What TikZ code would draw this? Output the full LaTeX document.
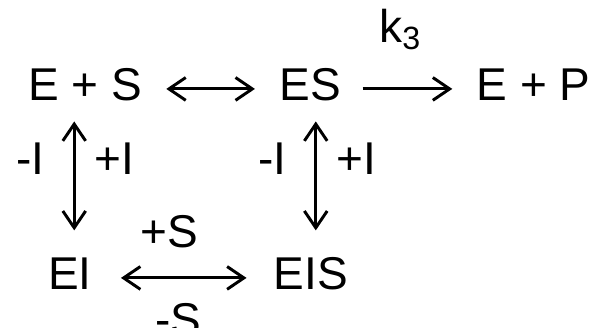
\documentclass[tikz,border=0pt]{standalone}
\usepackage{fontspec}
\setmainfont{Liberation Sans}
\usetikzlibrary{arrows.meta}

\begin{document}
\begin{tikzpicture}[font=\fontsize{21.8}{26}\selectfont,>={Straight Barb[length=0.28cm,width=0.38cm]},
sp/.style={inner sep=0pt,text height=0.55cm,text depth=0.18cm,anchor=base},
rxn/.style={line width=1.4pt,shorten <=0.4cm,shorten >=0.4cm},
vrt/.style={line width=1.4pt,shorten <=0.17cm,shorten >=0.42cm},
lab/.style={inner sep=0pt}]
\useasboundingbox (0,0) rectangle (10,5.45);

\node[sp] (es) at (1.417,3.783) {E + S};
\node[sp] (c) at (5.167,3.783) {ES};
\node[sp] (p) at (8.892,3.783) {E + P};
\node[sp] (ei) at (1.167,0.633) {EI};
\node[sp] (eis) at (5.183,0.633) {EIS};

\draw[rxn,<->] (es.east)--(c.west);
\draw[rxn,->,shorten <=0.36cm] (c.east)--(p.west) node[lab,midway,above=0.62cm,xshift=-0.14cm] {k\textsubscript{3}};
\draw[vrt,<->] ([xshift=0.07cm]ei.north |- es.south)--([xshift=0.07cm]ei.north)
  node[lab,pos=0.33,left=0.47cm] {-I} node[lab,pos=0.33,right=0.32cm] {+I};
\draw[vrt,<->] ([xshift=0.08cm]eis.north |- c.south)--([xshift=0.08cm]eis.north)
  node[lab,pos=0.33,left=0.47cm] {-I} node[lab,pos=0.33,right=0.32cm] {+I};
\draw[rxn,<->,shorten <=0.48cm,shorten >=0.45cm] (ei.east)--(eis.west)
  node[lab,midway,above=0.47cm,xshift=-0.23cm] {+S} node[lab,midway,below=0.4cm,xshift=-0.08cm] {-S};
\end{tikzpicture}
\end{document}
